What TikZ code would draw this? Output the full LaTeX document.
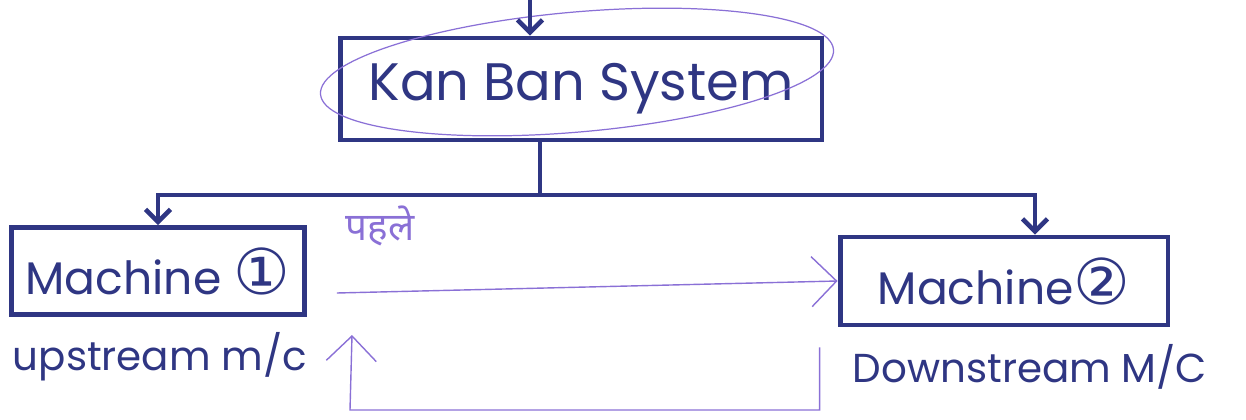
\documentclass[tikz,border=0pt]{standalone}
\usepackage{fontspec}
\setmainfont{Poppins}
\newfontfamily\circfont{DejaVu Sans}
\newfontfamily\devfont[Script=Devanagari]{Noto Sans}
\usetikzlibrary{arrows.meta,calc,positioning}
\definecolor{ink}{HTML}{2F3683}
\definecolor{pencil}{HTML}{8A70D6}
\tikzset{
  machinebox/.style={draw=ink,line width=2.8pt,text=ink,font=\fontsize{26}{30}\selectfont,inner sep=4pt},
  inkline/.style={line width=2.6pt,draw=ink},
  inkarrow/.style={inkline,-{Straight Barb[length=2.5mm,width=5mm]}},
  flow/.style={-{Straight Barb[length=5mm,width=10mm]},line width=0.8pt,draw=pencil},
  note/.style={text=ink,font=\fontsize{23}{28}\selectfont}
}
\newcommand{\numring}[1]{{\circfont\fontsize{36}{36}\selectfont #1}}

\begin{document}
\begin{tikzpicture}[x=0.02cm,y=-0.02cm]
  \useasboundingbox (0,0) rectangle (1246,419);

  \node[machinebox,minimum width=9.64cm,minimum height=2.04cm,font=\fontsize{30}{34}\selectfont] (kanban) at (581,89) {Kan Ban System};
  \node[machinebox,minimum width=5.86cm,minimum height=1.74cm] (m1) at (158,271) {Machine \numring{①}};
  \node[machinebox,minimum width=6.56cm,minimum height=1.76cm] (m2) at (1004,281) {Machine\numring{②}};
  \node[note] (upstream) at (160,357) {upstream m/c};
  \node[note] (downstream) at (1030,367) {Downstream M/C};
  \node[text=pencil,font=\devfont\fontsize{22}{26}\selectfont] (pahle) at (380,226) {पहले};

  % pencil ring round the system box
  \draw[pencil,line width=0.7pt,rotate around={5:(577,72)}] (577,72) ellipse [x radius=5.15cm,y radius=1.2cm];

  % feed and split to the machines
  \coordinate (feed) at (530,0);
  \coordinate (bus) at (540,195);
  \draw[inkarrow] (feed) -- (feed |- kanban.north);
  \draw[inkline] (kanban.south -| bus) -- (bus);
  \draw[inkarrow] (bus) -| (m1.north);
  \draw[inkarrow] (bus) -| ([xshift=0.62cm]m2.north);

  % kanban loop
  \coordinate (back) at (350,410);
  \coordinate (backtip) at (352,335);
  \draw[flow] ([xshift=0.6cm,yshift=-0.44cm]m1.east) -- (m2.west);
  \draw[flow] ([xshift=-0.36cm,yshift=-0.4cm]m2.south west) |- (back) -- (backtip);
\end{tikzpicture}
\end{document}
